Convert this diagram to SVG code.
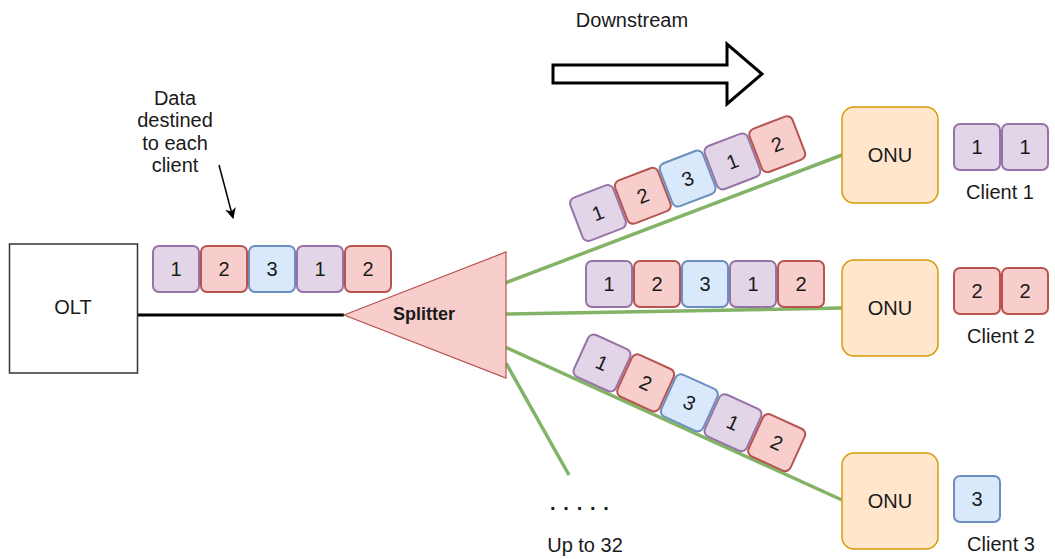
<svg xmlns="http://www.w3.org/2000/svg" width="1055" height="559" viewBox="0 0 1055 559">
  <defs>
    <style>
      text { font-family: "Liberation Sans", Arial, sans-serif; font-size: 20px; fill: #1a1a1a; }
      .c { text-anchor: middle; }
      .pkt { stroke-width: 2; }
      .p1 { fill: #e1d5e7; stroke: #9673a6; }
      .p2 { fill: #f8cecc; stroke: #b85450; }
      .p3 { fill: #dae8fc; stroke: #6c8ebf; }
      .onu { fill: #ffe6cc; stroke: #d79b00; stroke-width: 1.5; }
      .fiber { stroke: #82b366; stroke-width: 3.5; fill: none; stroke-linecap: butt; }
      .dots { font-weight: bold; letter-spacing: 1.1px; }
    </style>
    <marker id="arrowHead" viewBox="0 0 10 10" refX="9" refY="5" markerWidth="11" markerHeight="11" orient="auto" markerUnits="userSpaceOnUse">
      <path d="M0,0 L10,5 L0,10 L3,5 Z" fill="#000"/>
    </marker>
    <!-- one data frame, 48x48, centered on origin -->
    <rect id="frame" x="-23" y="-23" width="46" height="46" rx="6" ry="6"/>
  </defs>

  <!-- fibre and copper links -->
  <g id="connectors">
    <line x1="138" y1="315" x2="344" y2="315" stroke="#000" stroke-width="3"/>
    <line class="fiber" x1="505" y1="283" x2="842" y2="155"/>
    <line class="fiber" x1="505" y1="314" x2="842" y2="308"/>
    <line class="fiber" x1="505" y1="347" x2="842" y2="500"/>
    <line class="fiber" x1="506" y1="363" x2="569" y2="475"/>
    <line x1="219" y1="165" x2="233" y2="218" stroke="#000" stroke-width="1.5" marker-end="url(#arrowHead)"/>
  </g>

  <!-- direction indicator -->
  <g id="downstream">
    <text class="c" x="632" y="27">Downstream</text>
    <path d="M553,65 H727 V44 L762,74 L727,104 V83 H553 Z" fill="#fff" stroke="#000" stroke-width="3" stroke-linejoin="miter"/>
  </g>

  <g id="data-label">
    <text class="c" x="175" y="105">Data</text>
    <text class="c" x="175" y="127">destined</text>
    <text class="c" x="175" y="150">to each</text>
    <text class="c" x="175" y="172">client</text>
  </g>

  <g id="olt">
    <rect x="9.5" y="244" width="128" height="129" fill="#fff" stroke="#333" stroke-width="1.5"/>
    <text class="c" x="73" y="314">OLT</text>
  </g>

  <g id="splitter">
    <polygon points="344,315 506,252 506,378" fill="#f8cecc" stroke="#b85450" stroke-width="1.2"/>
    <text class="c" x="424" y="320" font-weight="bold" style="font-size:18px">Splitter</text>
  </g>

  <!-- frames leaving the OLT -->
  <g id="olt-stream">
    <g transform="translate(176,269)"><use href="#frame" class="pkt p1"/><text class="c" y="7">1</text></g>
    <g transform="translate(224,269)"><use href="#frame" class="pkt p2"/><text class="c" y="7">2</text></g>
    <g transform="translate(272,269)"><use href="#frame" class="pkt p3"/><text class="c" y="7">3</text></g>
    <g transform="translate(320,269)"><use href="#frame" class="pkt p1"/><text class="c" y="7">1</text></g>
    <g transform="translate(368,269)"><use href="#frame" class="pkt p2"/><text class="c" y="7">2</text></g>
  </g>

  <!-- broadcast copy on branch 1 -->
  <g id="branch1-stream" transform="translate(598,213) rotate(-21)">
    <g transform="translate(0,0)"><use href="#frame" class="pkt p1"/><text class="c" y="7">1</text></g>
    <g transform="translate(48,0)"><use href="#frame" class="pkt p2"/><text class="c" y="7">2</text></g>
    <g transform="translate(96,0)"><use href="#frame" class="pkt p3"/><text class="c" y="7">3</text></g>
    <g transform="translate(144,0)"><use href="#frame" class="pkt p1"/><text class="c" y="7">1</text></g>
    <g transform="translate(192,0)"><use href="#frame" class="pkt p2"/><text class="c" y="7">2</text></g>
  </g>

  <!-- broadcast copy on branch 2 -->
  <g id="branch2-stream">
    <g transform="translate(609,284)"><use href="#frame" class="pkt p1"/><text class="c" y="7">1</text></g>
    <g transform="translate(657,284)"><use href="#frame" class="pkt p2"/><text class="c" y="7">2</text></g>
    <g transform="translate(705,284)"><use href="#frame" class="pkt p3"/><text class="c" y="7">3</text></g>
    <g transform="translate(753,284)"><use href="#frame" class="pkt p1"/><text class="c" y="7">1</text></g>
    <g transform="translate(801,284)"><use href="#frame" class="pkt p2"/><text class="c" y="7">2</text></g>
  </g>

  <!-- broadcast copy on branch 3 -->
  <g id="branch3-stream" transform="translate(602,363) rotate(24.5)">
    <g transform="translate(0,0)"><use href="#frame" class="pkt p1"/><text class="c" y="7">1</text></g>
    <g transform="translate(48,0)"><use href="#frame" class="pkt p2"/><text class="c" y="7">2</text></g>
    <g transform="translate(96,0)"><use href="#frame" class="pkt p3"/><text class="c" y="7">3</text></g>
    <g transform="translate(144,0)"><use href="#frame" class="pkt p1"/><text class="c" y="7">1</text></g>
    <g transform="translate(192,0)"><use href="#frame" class="pkt p2"/><text class="c" y="7">2</text></g>
  </g>

  <g id="more-branches">
    <text class="dots" x="550" y="510">. . . . .</text>
    <text class="c" x="585" y="552">Up to 32</text>
  </g>

  <g id="onu1">
    <rect class="onu" x="842" y="107" width="96" height="96" rx="12" ry="12"/>
    <text class="c" x="890" y="162">ONU</text>
  </g>
  <g id="onu2">
    <rect class="onu" x="842" y="260" width="96" height="96" rx="12" ry="12"/>
    <text class="c" x="890" y="315">ONU</text>
  </g>
  <g id="onu3">
    <rect class="onu" x="842" y="453" width="96" height="96" rx="12" ry="12"/>
    <text class="c" x="890" y="508">ONU</text>
  </g>

  <g id="client1">
    <g transform="translate(977,147)"><use href="#frame" class="pkt p1"/><text class="c" y="7">1</text></g>
    <g transform="translate(1025,147)"><use href="#frame" class="pkt p1"/><text class="c" y="7">1</text></g>
    <text class="c" x="1000" y="199">Client 1</text>
  </g>
  <g id="client2">
    <g transform="translate(977,291)"><use href="#frame" class="pkt p2"/><text class="c" y="7">2</text></g>
    <g transform="translate(1025,291)"><use href="#frame" class="pkt p2"/><text class="c" y="7">2</text></g>
    <text class="c" x="1001" y="343">Client 2</text>
  </g>
  <g id="client3">
    <g transform="translate(977,499)"><use href="#frame" class="pkt p3"/><text class="c" y="7">3</text></g>
    <text class="c" x="1001" y="551">Client 3</text>
  </g>
</svg>
